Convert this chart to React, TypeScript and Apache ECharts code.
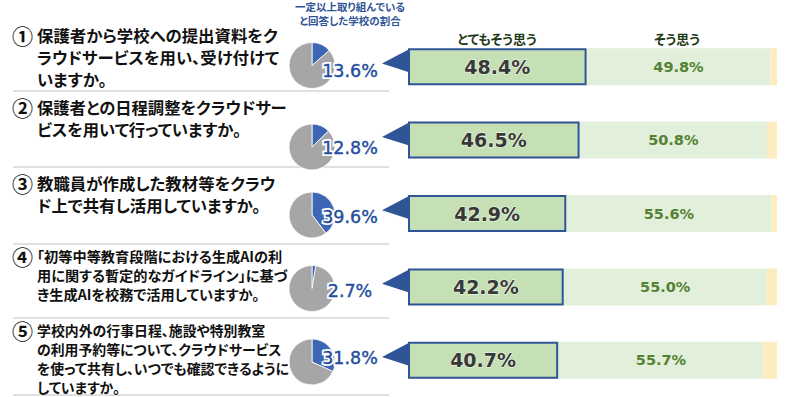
import React, { useEffect, useRef } from "react";
import * as echarts from "echarts";

// ---------- data ----------
const rowIds = ["q1", "q2", "q3", "q4", "q5"];
const circledNumbers = ["①", "②", "③", "④", "⑤"];
const questionLines: string[][] = [
  ["保護者から学校への提出資料をク", "ラウドサービスを用い、受け付けて", "いますか。"],
  ["保護者との日程調整をクラウドサー", "ビスを用いて行っていますか。"],
  ["教職員が作成した教材等をクラウ", "ド上で共有し活用していますか。"],
  ["「初等中等教育段階における生成AIの利", "用に関する暫定的なガイドライン」に基づ", "き生成AIを校務で活用していますか。"],
  ["学校内外の行事日程、施設や特別教室", "の利用予約等について、クラウドサービス", "を使って共有し、いつでも確認できるように", "していますか。"],
];
const engagedPct = [13.6, 12.8, 39.6, 2.7, 31.8];
const notEngagedPct = [86.4, 87.2, 60.4, 97.3, 68.2];
const stronglyAgree = [48.4, 46.5, 42.9, 42.2, 40.7];
const agree = [49.8, 50.8, 55.6, 55.0, 55.7];
const others = [1.8, 2.7, 1.5, 2.8, 3.6];
const headerLabels = ["とてもそう思う", "そう思う"];
const pieTitleLines = ["一定以上取り組んでいる", "と回答した学校の割合"];

// ---------- layout ----------
const GRID_LEFT = 408;
const GRID_TOP = 30;
const GRID_W = 369;
const GRID_H = 367;
const BAND = GRID_H / rowIds.length;
const rowCenter = (i: number) => GRID_TOP + BAND * (i + 0.5);
const PIE_CX = 312;
const PIE_R = 23;
const pieCy = [65.5, 147, 215, 288.5, 362];
const pctLabelX = 350;
const pctLabelY = [71, 148, 217, 291, 358];
const firstLineY = [35, 107, 183, 256, 330];
const qFontSize = [16.4, 16.3, 16.4, 14.2, 13.9];
const qLineHeight = [22, 22, 22, 19, 18.9];
const sepY = [91, 167, 244, 318, 395];

const CJK = '"Noto Sans CJK JP", "Noto Sans", sans-serif';
const NUM = '"DejaVu Sans", "Noto Sans", sans-serif';
const BLUE = "#2f5597";

export default function App() {
  const ref = useRef<HTMLDivElement>(null);

  useEffect(() => {
    if (!ref.current) return;
    const chart = echarts.init(ref.current, null, { renderer: "svg" });

    const graphics: any[] = [];

    // separator lines
    sepY.forEach((y) => {
      graphics.push({
        type: "line",
        z: 1,
        shape: { x1: 13, y1: y, x2: 389, y2: y },
        style: { stroke: "#d6d6d6", lineWidth: 1.5 },
      });
    });

    // pie column title (one two-line text)
    graphics.push({
      type: "text",
      z: 50,
      x: 350,
      y: 0,
      style: {
        text: pieTitleLines.join("\n"),
        fontFamily: CJK,
        fontWeight: "bold",
        fontSize: 10.5,
        lineHeight: 13.7,
        fill: BLUE,
        align: "center",
        verticalAlign: "top",
      },
    });
    const headerX = [497, 677];
    headerLabels.forEach((t, k) => {
      graphics.push({
        type: "text",
        z: 50,
        x: headerX[k],
        y: 38,
        style: {
          text: t,
          fontFamily: CJK,
          fontWeight: "bold",
          fontSize: 13,
          fill: "#1f3a17",
          align: "center",
          verticalAlign: "middle",
        },
      });
    });

    rowIds.forEach((_, i) => {
      const c = rowCenter(i);
      // circled number
      graphics.push({
        type: "text",
        z: 50,
        x: 12,
        y: firstLineY[i],
        style: {
          text: circledNumbers[i],
          fontFamily: CJK,
          fontWeight: "bold",
          fontSize: 21,
          fill: "#111",
          align: "left",
          verticalAlign: "middle",
        },
      });
      // question text
      graphics.push({
        type: "text",
        z: 50,
        x: 37,
        y: firstLineY[i] - qLineHeight[i] / 2,
        style: {
          text: questionLines[i].join("\n"),
          fontFamily: CJK,
          fontWeight: "bold",
          fontSize: qFontSize[i],
          lineHeight: qLineHeight[i],
          fill: "#111",
          align: "left",
          verticalAlign: "top",
        },
      });
      // pointer triangle
      graphics.push({
        type: "polygon",
        z: 1,
        shape: {
          points: [
            [382, c - 3.2],
            [409, c - 17.5],
            [409, c + 5.5],
          ],
        },
        style: { fill: BLUE },
      });
      // pie percentage label: white halo behind, blue fill on top
      const pctText = engagedPct[i].toFixed(1) + "%";
      graphics.push({
        type: "text",
        z: 99,
        silent: true,
        x: pctLabelX,
        y: pctLabelY[i],
        style: {
          text: pctText,
          fontFamily: NUM,
          fontSize: 17.5,
          fill: "#ffffff",
          stroke: "#ffffff",
          lineWidth: 4,
          align: "center",
          verticalAlign: "middle",
        },
      });
      graphics.push({
        type: "text",
        z: 100,
        x: pctLabelX,
        y: pctLabelY[i],
        style: {
          text: pctText,
          fontFamily: NUM,
          fontSize: 17.5,
          fill: "#234c9c",
          stroke: "#234c9c",
          lineWidth: 0.4,
          align: "center",
          verticalAlign: "middle",
        },
      });
    });

    const pieSeries = rowIds.map((id, i) => ({
      type: "pie",
      name: "pie-" + id,
      center: [PIE_CX, pieCy[i]],
      radius: PIE_R,
      startAngle: 90,
      clockwise: true,
      silent: true,
      z: 3,
      label: { show: false },
      labelLine: { show: false },
      itemStyle: { borderColor: "#fff", borderWidth: 0.8 },
      data: [
        { name: "一定以上取り組んでいる", value: engagedPct[i], itemStyle: { color: "#3d67b5" } },
        { name: "その他", value: notEngagedPct[i], itemStyle: { color: "#a6a6a6" } },
      ],
    }));

    const option: any = {
      animation: false,
      backgroundColor: "#ffffff",
      grid: { left: GRID_LEFT, top: GRID_TOP, width: GRID_W, height: GRID_H, containLabel: false },
      xAxis: { type: "value", min: 0, max: 100, show: false },
      yAxis: { type: "category", data: rowIds, inverse: true, show: false },
      series: [
        {
          type: "bar",
          name: headerLabels[0],
          stack: "total",
          barWidth: 37,
          z: 4,
          data: stronglyAgree,
          itemStyle: { color: "#c5e0b4", borderColor: BLUE, borderWidth: 2 },
          label: {
            show: true,
            position: "inside",
            formatter: (p: any) => p.value.toFixed(1) + "%",
            fontFamily: NUM,
            fontWeight: "bold",
            fontSize: 19,
            color: "#383838",
            textBorderColor: "#f4faf0",
            textBorderWidth: 1,
          },
        },
        {
          type: "bar",
          name: headerLabels[1],
          stack: "total",
          barWidth: 37,
          z: 3,
          data: agree,
          itemStyle: { color: "#e2efda" },
          label: {
            show: true,
            position: "inside",
            formatter: (p: any) => p.value.toFixed(1) + "%",
            fontFamily: NUM,
            fontWeight: "bold",
            fontSize: 14.5,
            color: "#548235",
          },
        },
        {
          type: "bar",
          name: "その他",
          stack: "total",
          barWidth: 37,
          z: 3,
          data: others,
          itemStyle: { color: "#fdecc0" },
          label: { show: false },
        },
        ...pieSeries,
      ],
      graphic: graphics,
    };

    chart.setOption(option);
    return () => chart.dispose();
  }, []);

  return (
    <>
      <style>{`#chart-root text { font-feature-settings: "palt" !important; }`}</style>
      <div
        id="chart-root"
        ref={ref}
        style={{ position: "absolute", left: 0, top: 0, width: 786, height: 397 }}
      />
    </>
  );
}
